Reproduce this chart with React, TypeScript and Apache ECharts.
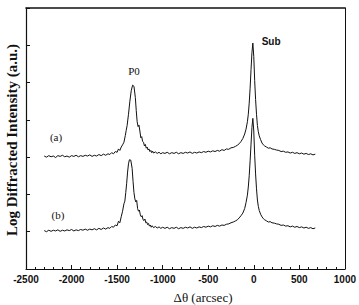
import React, { useEffect, useRef } from "react";
import * as echarts from "echarts";

// Curve (a): upper trace
const xA = [
  -2300, -2275, -2250, -2225, -2200, -2175, -2150, -2125, -2100, -2075, -2050, -2025, -2000, -1975, -1950, -1925, -1900, -1875, -1850, -1825, -1800, -1775, -1750, -1725, -1700, -1675, -1650, -1625, -1600,
  -1580, -1560, -1540, -1520, -1500, -1485, -1470, -1455, -1440, -1425, -1410, -1400, -1390, -1375, -1360, -1345, -1330, -1315, -1300, -1290, -1280, -1270, -1260, -1250, -1240, -1230, -1220, -1210, -1200, -1190, -1180, -1170, -1160, -1150, -1140, -1130, -1120, -1110, -1100, -1080, -1060, -1040, -1020, -1000,
  -975, -950, -925, -900, -875, -850, -825, -800, -775, -750, -725, -700, -675, -650, -625, -600, -575, -550, -525, -500, -475, -450, -425, -400, -375, -350, -325, -300, -275, -250, -225, -200, -180, -160, -140, -120, -100, -85, -70, -60, -50, -40, -30, -20, -10, 0, 10, 20, 30, 40, 50, 60, 75, 90, 105, 120, 140, 160, 180, 200, 225, 250, 275, 300, 325, 350, 375, 400, 425, 450, 475, 500, 525, 550, 575, 600, 625, 650, 675,
];
const yA = [
  3.03, 3.0, 3.04, 3.01, 3.03, 2.99, 3.04, 3.02, 3.05, 3.01, 3.03, 3.0, 3.04, 3.02, 3.05, 3.01, 3.04, 3.02, 3.05, 3.03, 3.06, 3.02, 3.05, 3.03, 3.07, 3.04, 3.08, 3.05, 3.09,
  3.07, 3.12, 3.09, 3.15, 3.13, 3.22, 3.18, 3.27, 3.33, 3.4, 3.58, 3.72, 3.85, 4.15, 4.5, 4.78, 4.93, 4.9, 4.6, 4.25, 3.95, 3.82, 3.86, 3.7, 3.52, 3.55, 3.42, 3.4, 3.3, 3.34, 3.24, 3.27, 3.19, 3.22, 3.15, 3.18, 3.12, 3.16, 3.11, 3.14, 3.1, 3.13, 3.09, 3.12,
  3.1, 3.13, 3.09, 3.12, 3.1, 3.13, 3.09, 3.12, 3.1, 3.13, 3.11, 3.14, 3.1, 3.13, 3.11, 3.14, 3.12, 3.15, 3.13, 3.16, 3.14, 3.17, 3.15, 3.18, 3.16, 3.2, 3.18, 3.22, 3.21, 3.25, 3.26, 3.29, 3.32, 3.36, 3.42, 3.5, 3.62, 3.75, 3.95, 4.15, 4.45, 4.85, 5.35, 5.8, 6.06, 5.7, 5.05, 4.55, 4.15, 3.85, 3.68, 3.57, 3.47, 3.38, 3.33, 3.3, 3.27, 3.24, 3.25, 3.22, 3.21, 3.19, 3.18, 3.15, 3.16, 3.13, 3.14, 3.11, 3.13, 3.1, 3.12, 3.09, 3.11, 3.08, 3.1, 3.07, 3.09, 3.06, 3.08,
];

// Curve (b): lower trace
const xB = [
  -2300, -2275, -2250, -2225, -2200, -2175, -2150, -2125, -2100, -2075, -2050, -2025, -2000, -1975, -1950, -1925, -1900, -1875, -1850, -1825, -1800, -1775, -1750, -1725, -1700, -1675, -1650, -1625, -1600,
  -1580, -1560, -1540, -1520, -1500, -1485, -1470, -1455, -1440, -1425, -1415, -1405, -1395, -1385, -1375, -1365, -1350, -1335, -1325, -1315, -1305, -1295, -1285, -1275, -1265, -1255, -1245, -1235, -1225, -1215, -1205, -1195, -1185, -1175, -1165, -1155, -1145, -1135, -1125, -1115, -1100, -1080, -1060, -1040, -1020, -1000,
  -975, -950, -925, -900, -875, -850, -825, -800, -775, -750, -725, -700, -675, -650, -625, -600, -575, -550, -525, -500, -475, -450, -425, -400, -375, -350, -325, -300, -275, -250, -225, -200, -180, -160, -140, -120, -100, -85, -70, -60, -50, -40, -30, -20, -10, 0, 10, 20, 30, 40, 50, 60, 75, 90, 105, 120, 140, 160, 180, 200, 225, 250, 275, 300, 325, 350, 375, 400, 425, 450, 475, 500, 525, 550, 575, 600, 625, 650, 675,
];
const yB = [
  1.03, 1.0, 1.04, 1.01, 1.04, 1.02, 1.05, 1.01, 1.04, 1.02, 1.05, 1.03, 1.06, 1.02, 1.05, 1.03, 1.06, 1.04, 1.07, 1.04, 1.07, 1.05, 1.08, 1.05, 1.09, 1.06, 1.1, 1.07, 1.11,
  1.09, 1.14, 1.12, 1.18, 1.16, 1.28, 1.24, 1.4, 1.55, 1.75, 1.82, 2.05, 2.3, 2.6, 2.82, 2.93, 2.92, 2.7, 2.35, 2.05, 1.88, 1.8, 1.84, 1.62, 1.55, 1.58, 1.45, 1.4, 1.43, 1.32, 1.3, 1.34, 1.24, 1.26, 1.19, 1.22, 1.15, 1.18, 1.12, 1.16, 1.11, 1.14, 1.1, 1.13, 1.09, 1.12,
  1.09, 1.12, 1.08, 1.11, 1.09, 1.12, 1.08, 1.11, 1.09, 1.12, 1.1, 1.13, 1.09, 1.12, 1.1, 1.13, 1.11, 1.14, 1.12, 1.15, 1.13, 1.16, 1.14, 1.17, 1.15, 1.18, 1.17, 1.2, 1.21, 1.24, 1.26, 1.29, 1.32, 1.37, 1.43, 1.5, 1.62, 1.78, 1.98, 2.2, 2.5, 2.9, 3.35, 3.8, 4.04, 3.7, 3.05, 2.55, 2.15, 1.85, 1.68, 1.57, 1.47, 1.4, 1.35, 1.32, 1.29, 1.26, 1.27, 1.24, 1.23, 1.21, 1.2, 1.17, 1.18, 1.15, 1.16, 1.13, 1.15, 1.12, 1.14, 1.11, 1.13, 1.1, 1.12, 1.09, 1.11, 1.08, 1.1,
];

const xTicks = { min: -2500, max: 1000, interval: 500 };
const yTicks = { min: 0, max: 7, interval: 1 };

// annotation labels anchored at data coordinates
const annotTexts = ["P0", "Sub", "(a)", "(b)"];
const annotX = [-1315, 190, -2170, -2150];
const annotY = [5.3, 6.1, 3.55, 1.45];

export default function App() {
  const ref = useRef<HTMLDivElement>(null);
  useEffect(() => {
    if (!ref.current) return;
    const chart = echarts.init(ref.current, null, { renderer: "svg" });
    const dataA = xA.map((x, i) => [x, yA[i]]);
    const dataB = xB.map((x, i) => [x, yB[i]]);
    const serif = "'Liberation Serif', 'Times New Roman', serif";
    const sans = "'Liberation Sans', Arial, sans-serif";
    chart.setOption({
      animation: false,
      backgroundColor: "#fff",
      grid: { left: 26, right: 11, top: 8, bottom: 36 },
      xAxis: [
        {
          type: "value",
          min: xTicks.min,
          max: xTicks.max,
          interval: xTicks.interval,
          axisLine: { show: true, onZero: false, lineStyle: { color: "#111", width: 1.2 } },
          axisTick: { show: true, inside: true, length: 4, lineStyle: { color: "#111" } },
          minorTick: { show: true, splitNumber: 5, length: 2, lineStyle: { color: "#111" } },
          splitLine: { show: false },
          axisLabel: {
            show: true,
            margin: 5,
            fontFamily: sans,
            fontWeight: "bold",
            fontSize: 10,
            color: "#111",
            formatter: (v: number) => String(v),
          },
        },
        {
          type: "value",
          position: "top",
          min: xTicks.min,
          max: xTicks.max,
          axisLine: { show: true, onZero: false, lineStyle: { color: "#111", width: 1.6 } },
          axisTick: { show: false },
          axisLabel: { show: false },
          splitLine: { show: false },
        },
      ],
      yAxis: [
        {
          type: "value",
          min: yTicks.min,
          max: yTicks.max,
          interval: yTicks.interval,
          axisLine: { show: true, onZero: false, lineStyle: { color: "#111", width: 1.2 } },
          axisTick: { show: true, inside: true, length: 4, lineStyle: { color: "#111" } },
          axisLabel: { show: false },
          splitLine: { show: false },
        },
        {
          type: "value",
          position: "right",
          min: yTicks.min,
          max: yTicks.max,
          axisLine: { show: true, onZero: false, lineStyle: { color: "#111", width: 1 } },
          axisTick: { show: false },
          axisLabel: { show: false },
          splitLine: { show: false },
        },
      ],
      series: [
        {
          type: "line",
          data: dataA,
          showSymbol: false,
          lineStyle: { color: "#111", width: 1 },
        },
        {
          type: "line",
          data: dataB,
          showSymbol: false,
          lineStyle: { color: "#111", width: 1 },
        },
      ],
    });

    const annotFonts = [
      { font: serif, size: 11, weight: "normal" },
      { font: sans, size: 10, weight: "bold" },
      { font: serif, size: 11, weight: "normal" },
      { font: serif, size: 11, weight: "normal" },
    ];
    const annotGraphics = annotTexts.map((t, i) => {
      const p = chart.convertToPixel({ xAxisIndex: 0, yAxisIndex: 0 }, [annotX[i], annotY[i]]) as number[];
      return {
        type: "text",
        x: p[0],
        y: p[1],
        style: {
          text: t,
          fontSize: annotFonts[i].size,
          fontWeight: annotFonts[i].weight,
          fontFamily: annotFonts[i].font,
          fill: "#111",
          align: "center",
          verticalAlign: "middle",
        },
      };
    });

    chart.setOption({
      graphic: [
        ...annotGraphics,
        {
          type: "text",
          x: 203,
          y: 297,
          style: {
            text: "Δθ (arcsec)",
            fontSize: 13,
            fontFamily: serif,
            fill: "#111",
            align: "center",
            verticalAlign: "middle",
          },
        },
        {
          type: "text",
          x: 12,
          y: 140,
          rotation: Math.PI / 2,
          style: {
            text: "Log Diffracted Intensity (a.u.)",
            fontSize: 15,
            fontWeight: "bold",
            fontFamily: serif,
            fill: "#111",
            align: "center",
            verticalAlign: "middle",
          },
        },
      ],
    });
    return () => chart.dispose();
  }, []);
  return <div ref={ref} style={{ width: 359, height: 305, position: "absolute", left: 0, top: 0 }} />;
}
